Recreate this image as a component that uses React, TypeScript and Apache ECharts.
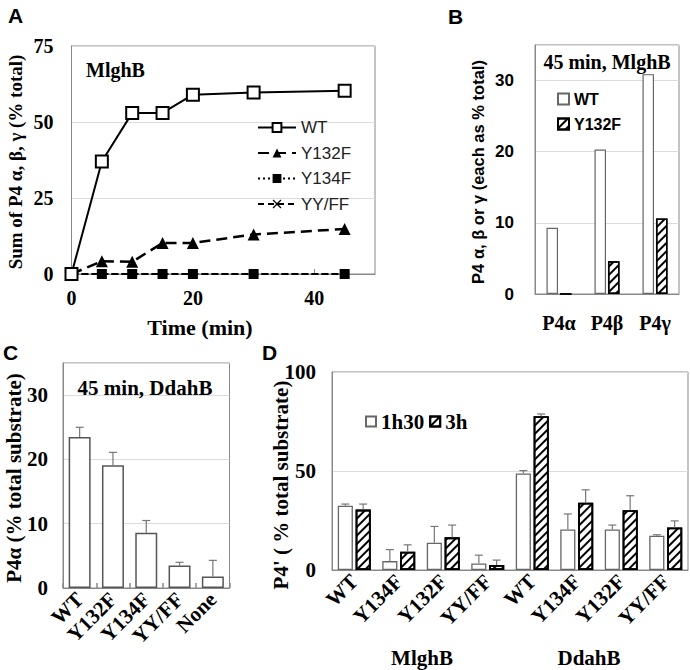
import React, { useEffect, useRef } from "react";
import * as echarts from "echarts";

// Panel A: time course (MlghB)
const timeMin = [0, 5, 10, 15, 20, 30, 45];
const aWT = [0, 37, 53, 53, 59, 59.7, 60.3];
const aY132F = [0, 4.2, 4, 10.2, 10.2, 13, 14.8];
const aY134F = [0, 0, 0, 0, 0, 0, 0];
const aYYFF = [0, 0, 0, 0, 0, 0, 0];

// Panel B: 45 min MlghB
const bCats = ["P4α", "P4β", "P4γ"];
const bWT = [9.3, 20.3, 30.9];
const bY132F = [0, 4.6, 10.6];

// Panel C: 45 min DdahB
const cCats = ["WT", "Y132F", "Y134F", "YY/FF", "None"];
const cVals = [23.5, 19.1, 8.6, 3.5, 1.8];
const cErr = [1.5, 2.0, 1.9, 0.5, 2.5];

// Panel D
const dCats = ["WT", "Y134F", "Y132F", "YY/FF", "WT", "Y134F", "Y132F", "YY/FF"];
const d1h30 = [32.5, 4.5, 13.8, 3.3, 48.8, 20.5, 20.5, 17.3];
const d1h30Err = [0.8, 5.8, 8.2, 4.2, 1.4, 7.8, 2.2, 0.5];
const d3h = [30.5, 9.2, 16.5, 2.5, 77.7, 34, 30.2, 21.5];
const d3hErr = [2.8, 3.5, 6.2, 2.5, 1.1, 6.5, 7.3, 3.3];
const dGroups = ["MlghB", "DdahB"];

const SERIF = '"Liberation Serif", "Times New Roman", serif';
const SANS = '"Liberation Sans", Arial, sans-serif';
const AX = "#888";
const GRIDC = "#dcdcdc";

const hatch = {
  symbol: "rect",
  symbolSize: 1,
  dashArrayX: [1, 0],
  dashArrayY: [2, 4],
  rotation: -Math.PI / 4,
  color: "#000",
  backgroundColor: "#fff",
};

const xMark = "path://M1,0L5,4L9,0L10,1L6,5L10,9L9,10L5,6L1,10L0,9L4,5L0,1Z";

function errRender(offsetFrac: number) {
  return (params: any, api: any) => {
    const i = api.value(0);
    const v = api.value(1);
    const e = api.value(2);
    const base = api.coord([i, v]);
    const top = api.coord([i, v + e]);
    const cw = api.size([1, 0])[0];
    const x = base[0] + offsetFrac * cw;
    const st = { stroke: "#777", lineWidth: 1.2 };
    return {
      type: "group",
      children: [
        { type: "line", shape: { x1: x, y1: base[1], x2: x, y2: top[1] }, style: st },
        { type: "line", shape: { x1: x - 4, y1: top[1], x2: x + 4, y2: top[1] }, style: st },
      ],
    };
  };
}

function pairs(xs: number[], ys: number[]) {
  return xs.map((x, i) => [x, ys[i]]);
}

function txt(x: number, y: number, text: string, font: string, opts: any = {}) {
  return {
    type: "text",
    x,
    y,
    rotation: opts.rotation || 0,
    z: 10,
    style: {
      text,
      font,
      fill: "#000",
      align: opts.align || "center",
      verticalAlign: "middle",
    },
  };
}

export default function App() {
  const ref = useRef<HTMLDivElement>(null);
  useEffect(() => {
    if (!ref.current) return;
    const chart = echarts.init(ref.current, undefined, { renderer: "svg" });
    const serifLabel = (size: number) => ({
      fontFamily: SERIF,
      fontWeight: "bold" as const,
      fontSize: size,
      color: "#000",
    });
    const option: any = {
      animation: false,
      backgroundColor: "#fff",
      grid: [
        { left: 71.5, top: 46, width: 303.5, height: 228, show: true, borderColor: AX, borderWidth: 1 },
        { left: 535, top: 45, width: 144, height: 249, show: true, borderColor: AX, borderWidth: 1 },
        { left: 63, top: 363, width: 166.5, height: 225, show: true, borderColor: AX, borderWidth: 1 },
        { left: 332, top: 372, width: 356, height: 198, show: true, borderColor: AX, borderWidth: 1 },
      ],
      xAxis: [
        {
          gridIndex: 0,
          type: "value",
          min: 0,
          max: 50,
          interval: 20,
          axisLine: { lineStyle: { color: AX } },
          axisTick: { show: true, inside: true, length: 5, lineStyle: { color: AX } },
          axisLabel: { ...serifLabel(20), margin: 14, showMaxLabel: false },
          splitLine: { show: false },
        },
        {
          gridIndex: 1,
          type: "category",
          data: bCats,
          axisLine: { lineStyle: { color: AX } },
          axisTick: { show: false },
          axisLabel: { ...serifLabel(20), margin: 19 },
        },
        {
          gridIndex: 2,
          type: "category",
          data: cCats,
          axisLine: { lineStyle: { color: AX } },
          axisTick: { show: true, inside: true, length: 5, lineStyle: { color: AX, width: 1.5 } },
          axisLabel: { ...serifLabel(21), rotate: 45, margin: 8, interval: 0 },
        },
        {
          gridIndex: 3,
          type: "category",
          data: dCats,
          axisLine: { lineStyle: { color: AX } },
          axisTick: { show: false },
          axisLabel: { ...serifLabel(21), rotate: 45, margin: 8, interval: 0 },
        },
      ],
      yAxis: [
        {
          gridIndex: 0,
          type: "value",
          min: 0,
          max: 75,
          interval: 25,
          axisLine: { show: true, lineStyle: { color: AX } },
          axisTick: { show: false },
          axisLabel: { ...serifLabel(20), margin: 18 },
          splitLine: { lineStyle: { color: GRIDC } },
        },
        {
          gridIndex: 1,
          type: "value",
          min: 0,
          max: 35,
          interval: 10,
          axisLine: { show: true, lineStyle: { color: AX } },
          axisTick: { show: false },
          axisLabel: { fontFamily: SANS, fontWeight: "bold", fontSize: 17, color: "#000", margin: 21, showMaxLabel: false },
          splitLine: { lineStyle: { color: GRIDC } },
        },
        {
          gridIndex: 2,
          type: "value",
          min: 0,
          max: 35,
          interval: 10,
          axisLine: { show: true, lineStyle: { color: AX } },
          axisTick: { show: false },
          axisLabel: { ...serifLabel(21), margin: 15, showMaxLabel: false },
          splitLine: { lineStyle: { color: GRIDC } },
        },
        {
          gridIndex: 3,
          type: "value",
          min: 0,
          max: 100,
          interval: 50,
          axisLine: { show: true, lineStyle: { color: AX } },
          axisTick: { show: false },
          axisLabel: { ...serifLabel(21), margin: 16 },
          splitLine: { lineStyle: { color: GRIDC } },
        },
      ],
      legend: [
        {
          orient: "vertical",
          left: 252,
          top: 114,
          itemWidth: 38,
          itemHeight: 11,
          itemGap: 8.5,
          data: ["WT", "Y132F", "Y134F", "YY/FF"],
          textStyle: { fontFamily: SANS, fontSize: 17, color: "#222" },
        },
        {
          orient: "vertical",
          left: 552,
          top: 86,
          itemWidth: 11,
          itemHeight: 11,
          itemGap: 9,
          icon: "rect",
          data: ["WT ", "Y132F "],
          textStyle: { fontFamily: SANS, fontWeight: "bold", fontSize: 16, color: "#000" },
        },
        {
          orient: "horizontal",
          left: 360,
          top: 406,
          itemWidth: 10,
          itemHeight: 10,
          itemGap: 5,
          icon: "rect",
          data: ["1h30", "3h"],
          textStyle: { ...serifLabel(21) },
        },
      ],
      series: [
        {
          name: "WT",
          type: "line",
          xAxisIndex: 0,
          yAxisIndex: 0,
          data: pairs(timeMin, aWT),
          symbol: "emptyRect",
          symbolSize: 12,
          lineStyle: { color: "#000", width: 2 },
          itemStyle: { color: "#000", borderColor: "#000", borderWidth: 2 },
          z: 5,
        },
        {
          name: "Y132F",
          type: "line",
          xAxisIndex: 0,
          yAxisIndex: 0,
          data: pairs(timeMin, aY132F),
          symbol: "triangle",
          symbolSize: 12,
          lineStyle: { color: "#000", width: 2.5, type: [11, 6] },
          itemStyle: { color: "#000" },
          z: 4,
        },
        {
          name: "Y134F",
          type: "line",
          xAxisIndex: 0,
          yAxisIndex: 0,
          data: pairs(timeMin, aY134F),
          symbol: "rect",
          symbolSize: 10,
          lineStyle: { color: "#000", width: 2.2, type: [2, 3] },
          itemStyle: { color: "#000" },
          z: 3,
        },
        {
          name: "YY/FF",
          type: "line",
          xAxisIndex: 0,
          yAxisIndex: 0,
          data: pairs(timeMin, aYYFF),
          symbol: xMark,
          symbolSize: 9,
          lineStyle: { color: "#000", width: 2.2, type: [6, 4] },
          itemStyle: { color: "#000" },
          z: 4,
        },
        {
          name: "WT ",
          type: "bar",
          xAxisIndex: 1,
          yAxisIndex: 1,
          data: bWT,
          barWidth: "24%",
          barGap: "17%",
          itemStyle: { color: "#fff", borderColor: "#666", borderWidth: 1.2 },
        },
        {
          name: "Y132F ",
          type: "bar",
          xAxisIndex: 1,
          yAxisIndex: 1,
          data: bY132F,
          barWidth: "24%",
          barGap: "17%",
          itemStyle: { color: "#fff", borderColor: "#000", borderWidth: 1.5, decal: hatch },
        },
        {
          name: "C",
          type: "bar",
          xAxisIndex: 2,
          yAxisIndex: 2,
          data: cVals,
          barWidth: "66%",
          itemStyle: { color: "#fff", borderColor: "#555", borderWidth: 1.5 },
        },
        {
          name: "Cerr",
          type: "custom",
          xAxisIndex: 2,
          yAxisIndex: 2,
          data: cVals.map((v, i) => [i, v, cErr[i]]),
          encode: { x: 0, y: 1 },
          renderItem: errRender(0),
          z: 5,
        },
        {
          name: "1h30",
          type: "bar",
          xAxisIndex: 3,
          yAxisIndex: 3,
          data: d1h30,
          barWidth: "34%",
          barGap: "18%",
          itemStyle: { color: "#fff", borderColor: "#666", borderWidth: 1.3 },
        },
        {
          name: "3h",
          type: "bar",
          xAxisIndex: 3,
          yAxisIndex: 3,
          data: d3h,
          barWidth: "34%",
          barGap: "18%",
          itemStyle: { color: "#fff", borderColor: "#000", borderWidth: 1.8, decal: hatch },
        },
        {
          name: "D1err",
          type: "custom",
          xAxisIndex: 3,
          yAxisIndex: 3,
          data: d1h30.map((v, i) => [i, v, d1h30Err[i]]),
          encode: { x: 0, y: 1 },
          renderItem: errRender(-0.2),
          z: 5,
        },
        {
          name: "D2err",
          type: "custom",
          xAxisIndex: 3,
          yAxisIndex: 3,
          data: d3h.map((v, i) => [i, v, d3hErr[i]]),
          encode: { x: 0, y: 1 },
          renderItem: errRender(0.2),
          z: 5,
        },
      ],
      graphic: [
        txt(8, 15, "A", `bold 21px ${SANS}`, { align: "left" }),
        txt(448, 16, "B", `bold 21px ${SANS}`, { align: "left" }),
        txt(3, 352, "C", `bold 21px ${SANS}`, { align: "left" }),
        txt(262, 352, "D", `bold 21px ${SANS}`, { align: "left" }),
        txt(15, 162, "Sum of P4 α, β, γ (% total)", `bold 19px ${SERIF}`, { rotation: Math.PI / 2 }),
        txt(200, 327, "Time (min)", `bold 22px ${SERIF}`),
        txt(86, 70, "MlghB", `bold 20px ${SERIF}`, { align: "left" }),
        txt(478, 172, "P4 α, β or γ (each as % total)", `bold 16.5px ${SANS}`, { rotation: Math.PI / 2 }),
        txt(607, 62, "45 min, MlghB", `bold 20px ${SERIF}`),
        txt(14, 478, "P4α (% total substrate)", `bold 21px ${SERIF}`, { rotation: Math.PI / 2 }),
        txt(145, 388, "45 min, DdahB", `bold 21px ${SERIF}`),
        txt(281, 485, "P4' ( % total substrate)", `bold 21px ${SERIF}`, { rotation: Math.PI / 2 }),
        txt(422, 658, dGroups[0], `bold 21px ${SERIF}`),
        txt(589, 658, dGroups[1], `bold 21px ${SERIF}`),
      ],
    };
    chart.setOption(option);
    return () => chart.dispose();
  }, []);
  return (
    <div
      ref={ref}
      style={{ position: "absolute", left: 0, top: 0, width: 690, height: 670, background: "#fff" }}
    />
  );
}
